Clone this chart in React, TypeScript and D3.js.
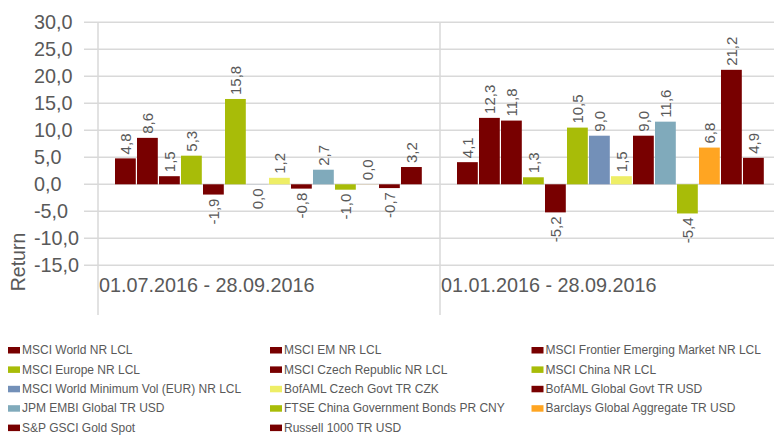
import React from "react";
import * as d3 from "d3";

const categories = ["01.07.2016 - 28.09.2016", "01.01.2016 - 28.09.2016"];

const seriesNames = [
  "MSCI World NR LCL",
  "MSCI EM NR LCL",
  "MSCI Frontier Emerging Market NR LCL",
  "MSCI Europe NR LCL",
  "MSCI Czech Republic NR LCL",
  "MSCI China NR LCL",
  "MSCI World Minimum Vol (EUR) NR LCL",
  "BofAML Czech Govt TR CZK",
  "BofAML Global Govt TR USD",
  "JPM EMBI Global TR USD",
  "FTSE China Government Bonds PR CNY",
  "Barclays Global Aggregate TR USD",
  "S&P GSCI Gold Spot",
  "Russell 1000 TR USD",
];

const seriesColors = [
  "#780000", "#780000", "#780000", "#a8bc08", "#780000", "#a8bc08", "#7390b8",
  "#eeee66", "#780000", "#80aabb", "#a8bc08", "#ffa522", "#780000", "#780000",
];

// returns per series, one array per period
const quarterValues = [4.8, 8.6, 1.5, 5.3, -1.9, 15.8, -0.02, 1.2, -0.8, 2.7, -1.0, 0.02, -0.7, 3.2];
const yearValues = [4.1, 12.3, 11.8, 1.3, -5.2, 10.5, 9.0, 1.5, 9.0, 11.6, -5.4, 6.8, 21.2, 4.9];
const periodValues = [quarterValues, yearValues];

const yTicks = [30, 25, 20, 15, 10, 5, 0, -5, -10, -15];

const locale = d3.formatLocale({
  decimal: ",",
  thousands: " ",
  grouping: [3],
  currency: ["", ""],
  minus: "-",
});
const fmt = locale.format(".1f");

const FONT = "Liberation Sans, Arial, sans-serif";
const TEXT = "#595959";
const GRID = "#d9d9d9";

export default function App() {
  const width = 774;
  const height = 435;

  const y = d3.scaleLinear().domain([-15, 30]).range([265.3, 22.3]);
  const x0 = d3.scaleBand().domain(categories).range([98, 782]);
  const x1 = d3.scaleBand().domain(seriesNames).range([17, 325]);

  const legendCols = [8, 270, 531.5];

  return (
    <svg
      width={width}
      height={height}
      style={{ position: "absolute", left: 0, top: 0, background: "#fff" }}
      fontFamily={FONT}
    >
      {/* grid */}
      {yTicks.map((t) => (
        <g key={t}>
          <line x1={84} x2={width} y1={y(t)} y2={y(t)} stroke={GRID} strokeWidth={1.5} />
          <text x={34} y={y(t) + 7} fontSize={19.8} fill={TEXT}>
            {fmt(t)}
          </text>
        </g>
      ))}
      {categories.map((c) => (
        <g key={c}>
          <line x1={x0(c)} x2={x0(c)} y1={22} y2={315} stroke={GRID} strokeWidth={1.5} />
          <text x={(x0(c) as number) + 1} y={292} fontSize={19.8} fill={TEXT}>
            {c}
          </text>
        </g>
      ))}

      <text transform="translate(25,262) rotate(-90)" textAnchor="middle" fontSize={19.5} fill={TEXT}>
        Return
      </text>

      {/* bars */}
      {categories.map((c, ci) => (
        <g key={c} transform={`translate(${x0(c)},0)`}>
          {seriesNames.map((s, si) => {
            const v = periodValues[ci][si];
            const bx = x1(s) as number;
            const bw = x1.bandwidth() - 1.2;
            const top = y(Math.max(0, v));
            const bottom = y(Math.min(0, v));
            const cx = bx + bw / 2;
            const ly = v > 0 ? top - 4 : bottom + 4;
            return (
              <g key={s}>
                <rect x={bx} y={top} width={bw} height={Math.max(0, bottom - top)} fill={seriesColors[si]} />
                <text
                  transform={`translate(${cx},${ly}) rotate(-90)`}
                  textAnchor={v > 0 ? "start" : "end"}
                  dy="0.35em"
                  fontSize={15}
                  fill={TEXT}
                >
                  {fmt(v)}
                </text>
              </g>
            );
          })}
        </g>
      ))}

      {/* legend */}
      {seriesNames.map((s, i) => {
        const lx = legendCols[i % 3];
        const ly = 350 + Math.floor(i / 3) * 19.4;
        return (
          <g key={s}>
            <rect x={lx} y={ly - 3} width={12} height={6.5} fill={seriesColors[i]} />
            <text x={lx + 14} y={ly + 4.2} fontSize={12} fill={TEXT}>
              {s}
            </text>
          </g>
        );
      })}
    </svg>
  );
}
